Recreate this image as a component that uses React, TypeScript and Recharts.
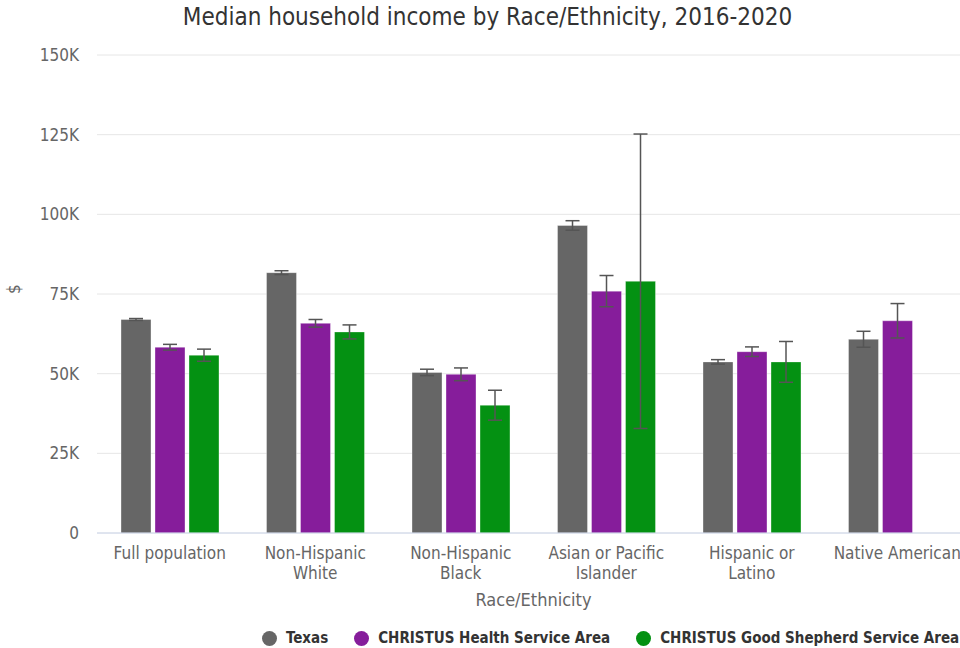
import React from 'react';
import { BarChart, Bar, XAxis, YAxis, CartesianGrid, ErrorBar } from 'recharts';

const categories = ['Full population', 'Non-Hispanic White', 'Non-Hispanic Black', 'Asian or Pacific Islander', 'Hispanic or Latino', 'Native American'];
const tickLines = [['Full population'], ['Non-Hispanic', 'White'], ['Non-Hispanic', 'Black'], ['Asian or Pacific', 'Islander'], ['Hispanic or', 'Latino'], ['Native American']];
const yTicks = [0, 25000, 50000, 75000, 100000, 125000, 150000];

const texas = [67000, 81700, 50400, 96500, 53700, 60800];
const texasErr = [300, 600, 1000, 1500, 700, 2500];
const healthArea = [58300, 65800, 49800, 75900, 56900, 66600];
const healthErr = [900, 1200, 2000, 4900, 1500, 5400];
const shepherdArea = [55800, 63100, 40100, 79000, 53700, null];
const shepherdErr = [1900, 2200, 4700, 46200, 6400, null];

const seriesNames = ['Texas', 'CHRISTUS Health Service Area', 'CHRISTUS Good Shepherd Service Area'];
const colors = ['#666666', '#861d9b', '#049112'];

const data = categories.map((c, i) => ({
  name: c,
  texas: texas[i],
  texasErr: texasErr[i],
  health: healthArea[i],
  healthErr: healthErr[i],
  shepherd: shepherdArea[i],
  shepherdErr: shepherdErr[i],
}));

const font = '"DejaVu Sans Condensed", "DejaVu Sans", sans-serif';

const CategoryTick = (props: any) => {
  const { x, y, index } = props;
  const lines = tickLines[index] || [];
  return (
    <text x={x} y={y} textAnchor="middle" fill="#666" fontSize={17} fontFamily={font}>
      {lines.map((l, k) => (
        <tspan key={k} x={x} dy={k === 0 ? 18 : 20}>{l}</tspan>
      ))}
    </text>
  );
};

const App = () => {
  return (
    <div style={{ position: 'fixed', left: 0, top: 0, width: 960, height: 648, overflow: 'hidden', background: '#fff', fontFamily: font }}>
      <div style={{ position: 'absolute', left: 0, top: 3, width: 975, textAlign: 'center', fontSize: 24, color: '#333', whiteSpace: 'nowrap' }}>
        Median household income by Race/Ethnicity, 2016-2020
      </div>
      <div style={{ position: 'absolute', left: 0, top: 0 }}>
        <BarChart
          width={980}
          height={648}
          data={data}
          margin={{ top: 55, right: 10, bottom: 40, left: 0 }}
          barCategoryGap="16.5%"
          barGap={4}
        >
          <CartesianGrid vertical={false} stroke="#e6e6e6" />
          <XAxis
            dataKey="name"
            height={75}
            axisLine={{ stroke: '#ccd6eb' }}
            tickLine={false}
            tick={<CategoryTick />}
            interval={0}
            label={{ value: 'Race/Ethnicity', position: 'insideBottom', offset: 2, fill: '#666', fontSize: 18, fontFamily: font }}
          />
          <YAxis
            width={97}
            domain={[0, 150000]}
            ticks={yTicks}
            axisLine={false}
            tickLine={false}
            tickSize={0}
            tickMargin={18}
            tick={{ fill: '#666', fontSize: 17, fontFamily: font }}
            tickFormatter={(v: number) => (v === 0 ? '0' : `${v / 1000}K`)}
            label={{ value: '$', angle: -90, position: 'insideLeft', offset: 14, fill: '#666', fontSize: 17, fontFamily: font }}
          />
          <Bar dataKey="texas" fill={colors[0]} stroke="#ffffff" strokeOpacity={0.35} isAnimationActive={false}>
            <ErrorBar dataKey="texasErr" width={7} stroke="#555" strokeWidth={1.5} direction="y" />
          </Bar>
          <Bar dataKey="health" fill={colors[1]} stroke="#ffffff" strokeOpacity={0.35} isAnimationActive={false}>
            <ErrorBar dataKey="healthErr" width={7} stroke="#555" strokeWidth={1.5} direction="y" />
          </Bar>
          <Bar dataKey="shepherd" fill={colors[2]} stroke="#ffffff" strokeOpacity={0.35} isAnimationActive={false}>
            <ErrorBar dataKey="shepherdErr" width={7} stroke="#555" strokeWidth={1.5} direction="y" />
          </Bar>
        </BarChart>
      </div>
      <div style={{ position: 'absolute', left: 262, top: 628, display: 'flex', alignItems: 'center', fontSize: 15, lineHeight: '20px', fontWeight: 'bold', color: '#333', whiteSpace: 'nowrap' }}>
        {seriesNames.map((n, i) => (
          <div key={n} style={{ display: 'flex', alignItems: 'center', marginRight: 26 }}>
            <span style={{ width: 15, height: 15, borderRadius: '50%', background: colors[i], display: 'inline-block', marginRight: 9 }} />
            <span>{n}</span>
          </div>
        ))}
      </div>
    </div>
  );
};

export default App;
